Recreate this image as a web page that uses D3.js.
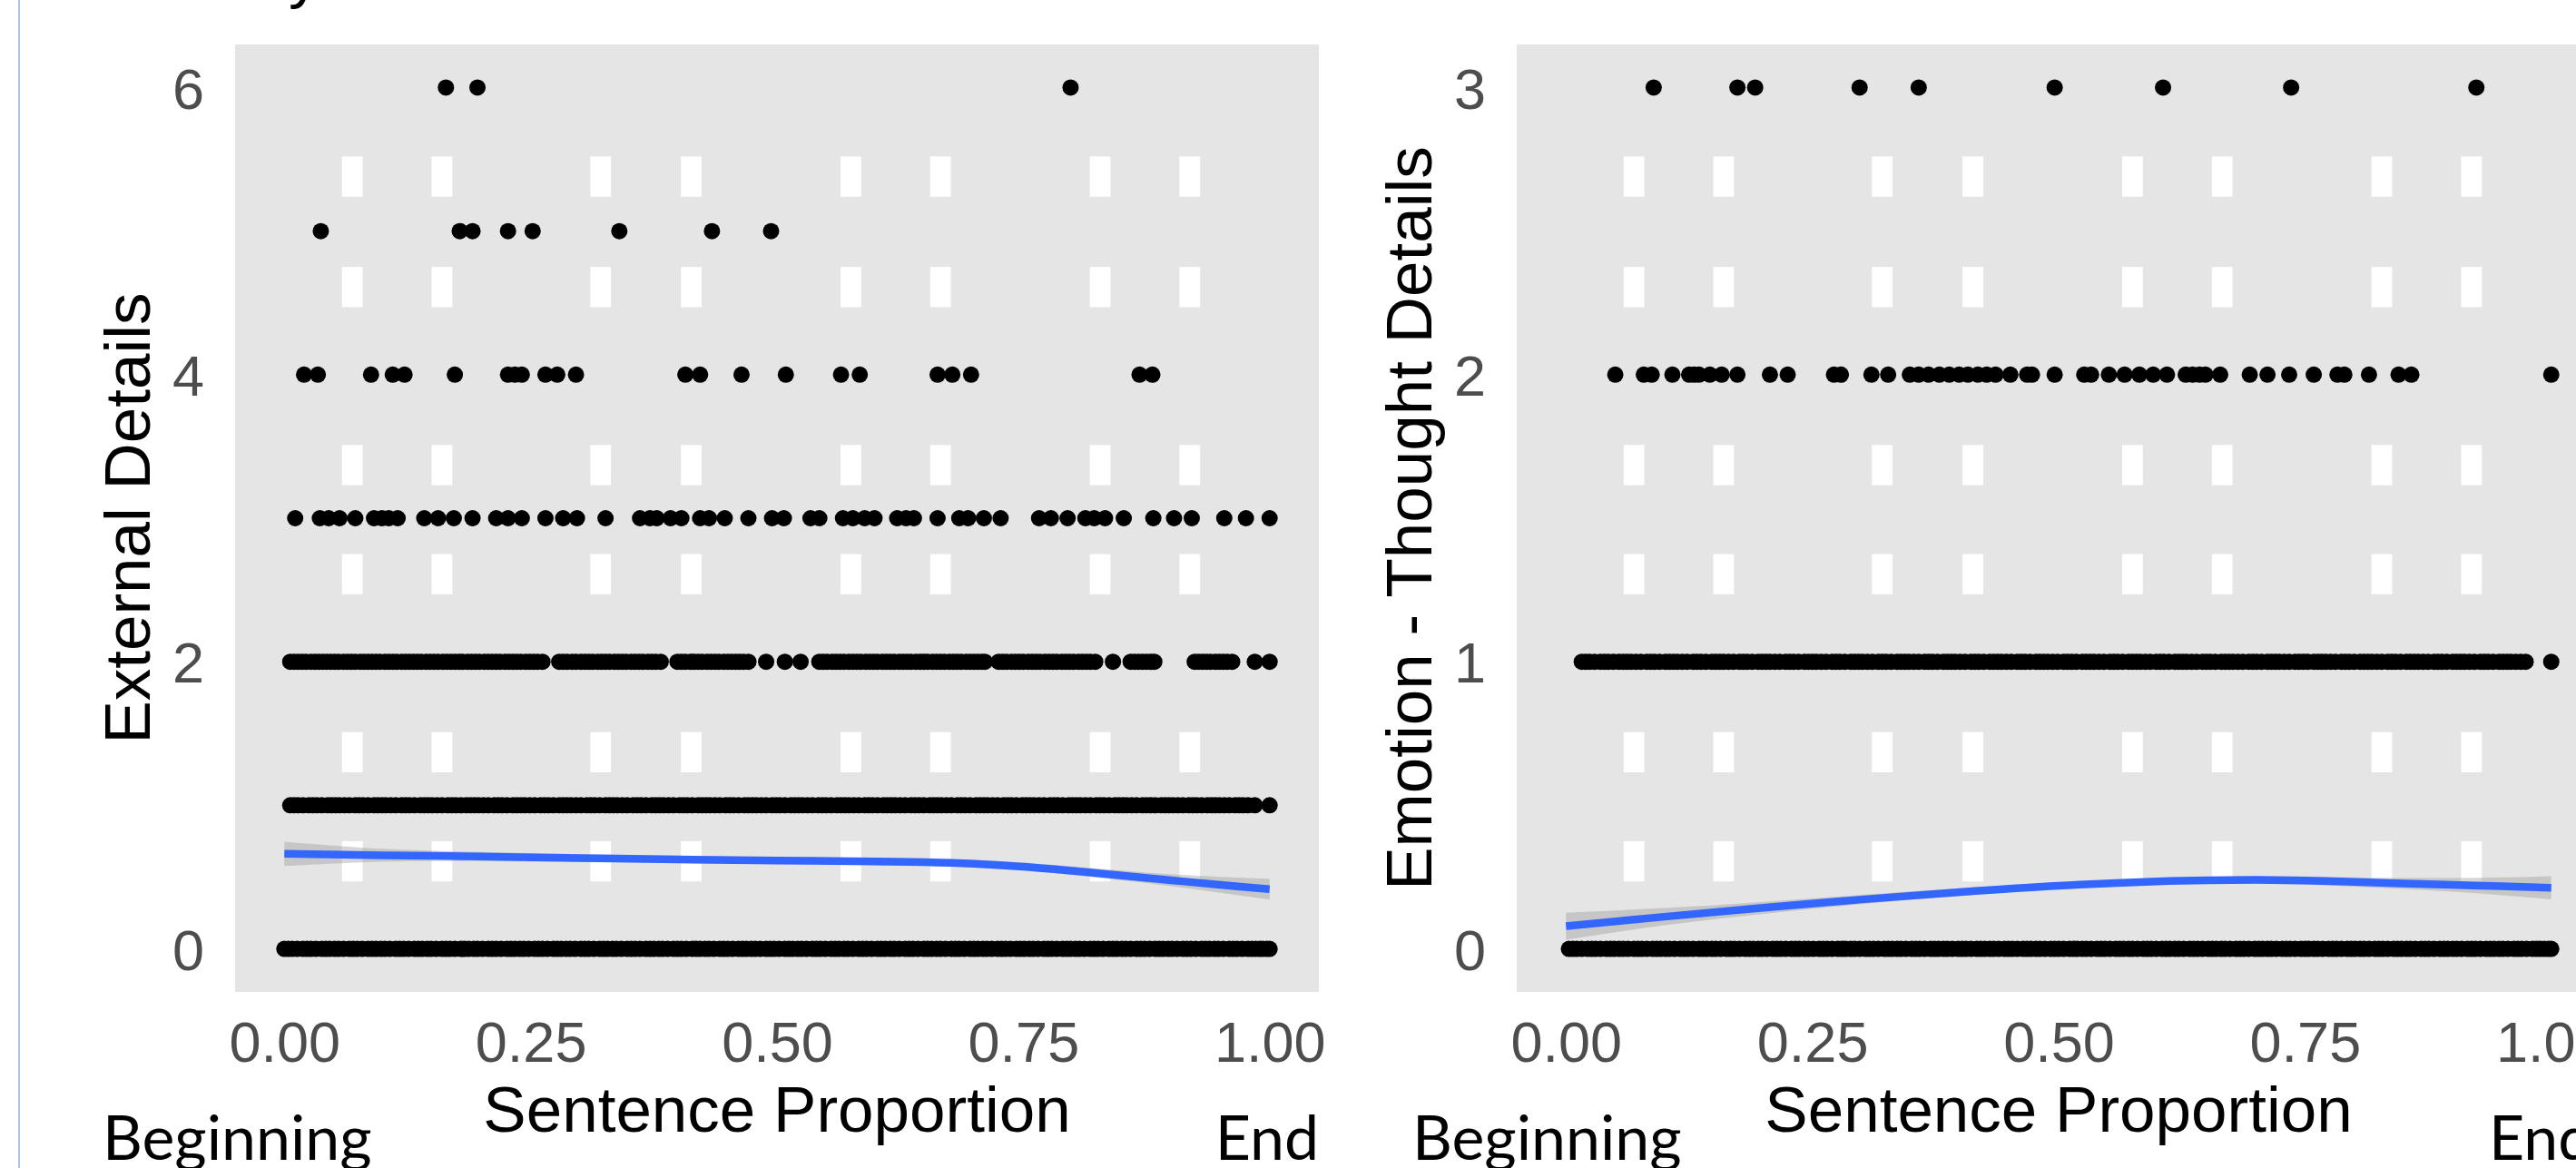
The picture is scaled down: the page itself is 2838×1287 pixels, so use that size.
<!DOCTYPE html>
<html><head><meta charset="utf-8">
<script src="https://cdn.jsdelivr.net/npm/d3@7"></script>
<style>html,body{margin:0;padding:0;background:#fff;overflow:hidden}</style>
</head><body><svg id="c" width="2838" height="1287" xmlns="http://www.w3.org/2000/svg"></svg>
<script>
// ---------- DATA ----------
const xTicks = [0, 0.25, 0.5, 0.75, 1];
const leftYTicks = [0, 2, 4, 6];
const rightYTicks = [0, 1, 2, 3];
const xTitle = "Sentence Proportion";
const leftYTitle = "External Details";
const rightYTitle = "Emotion - Thought Details";
const startLabel = "Beginning";
const endLabel = "End";

// Left panel: External Details, x = sentence proportion for each y level
const left6 = [0.164, 0.196, 0.798];
const left5 = [0.037, 0.178, 0.191, 0.227, 0.252, 0.340, 0.434, 0.494];
const left4 = [0.020, 0.034, 0.088, 0.110, 0.122, 0.173, 0.227, 0.234, 0.241, 0.265, 0.277, 0.296,
  0.407, 0.422, 0.464, 0.509, 0.565, 0.584, 0.663, 0.678, 0.697, 0.868, 0.881];
const left3 = [0.011, 0.036, 0.045, 0.056, 0.072, 0.091, 0.099, 0.106, 0.115, 0.142, 0.156, 0.172,
  0.191, 0.215, 0.227, 0.241, 0.265, 0.283, 0.297, 0.326, 0.361, 0.371, 0.378, 0.392, 0.403, 0.422,
  0.431, 0.447, 0.471, 0.495, 0.507, 0.534, 0.543, 0.567, 0.577, 0.589, 0.599, 0.622, 0.631, 0.639,
  0.663, 0.685, 0.694, 0.710, 0.727, 0.766, 0.778, 0.795, 0.813, 0.822, 0.833, 0.852, 0.882, 0.903,
  0.921, 0.954, 0.976, 1.000];
const left2 = [0.006, 0.010, 0.014, 0.018, 0.022, 0.027, 0.031, 0.035, 0.039, 0.043, 0.047, 0.051,
  0.055, 0.060, 0.064, 0.068, 0.072, 0.077, 0.081, 0.085, 0.089, 0.093, 0.097, 0.102, 0.106, 0.110,
  0.114, 0.119, 0.123, 0.127, 0.131, 0.135, 0.139, 0.144, 0.148, 0.152, 0.156, 0.161, 0.165, 0.169,
  0.173, 0.177, 0.181, 0.186, 0.190, 0.194, 0.198, 0.203, 0.207, 0.211, 0.215, 0.219, 0.224, 0.228,
  0.232, 0.236, 0.240, 0.245, 0.249, 0.253, 0.257, 0.262,
  0.279, 0.283, 0.287, 0.292, 0.296, 0.301, 0.305, 0.309, 0.313, 0.318, 0.322, 0.326, 0.330, 0.335,
  0.339, 0.343, 0.347, 0.352, 0.356, 0.360, 0.364, 0.369, 0.373, 0.377, 0.382,
  0.399, 0.403, 0.407, 0.412, 0.416, 0.420, 0.424, 0.429, 0.433, 0.437, 0.441, 0.446, 0.450, 0.454,
  0.458, 0.462, 0.466, 0.471,
  0.489, 0.508, 0.524,
  0.543, 0.547, 0.551, 0.556, 0.560, 0.564, 0.568, 0.573, 0.577, 0.581, 0.585, 0.590, 0.594, 0.598,
  0.602, 0.607, 0.611, 0.615, 0.619, 0.624, 0.628, 0.632, 0.636, 0.641, 0.645, 0.649, 0.653, 0.658,
  0.662, 0.666, 0.670, 0.675, 0.679, 0.683, 0.687, 0.692, 0.696, 0.700, 0.704, 0.708, 0.711,
  0.725, 0.729, 0.733, 0.738, 0.742, 0.746, 0.750, 0.755, 0.759, 0.763, 0.767, 0.772, 0.776, 0.780,
  0.784, 0.789, 0.793, 0.797, 0.801, 0.806, 0.810, 0.814, 0.818, 0.823,
  0.841, 0.859, 0.863, 0.867, 0.871, 0.875, 0.879, 0.883, 0.924, 0.928, 0.932, 0.936, 0.940, 0.945,
  0.949, 0.953, 0.957, 0.962, 0.985, 1.000];
const left1 = [0.006, 0.010, 0.014, 0.019, 0.025, 0.029, 0.033, 0.038, 0.044, 0.048, 0.052, 0.056,
  0.061, 0.066, 0.072, 0.076, 0.080, 0.085, 0.091, 0.095, 0.099, 0.103, 0.108, 0.113, 0.119, 0.123,
  0.127, 0.132, 0.138, 0.142, 0.146, 0.150, 0.155, 0.160, 0.166, 0.170, 0.174, 0.179, 0.185, 0.189,
  0.193, 0.197, 0.202, 0.207, 0.213, 0.217, 0.221, 0.226, 0.232, 0.236, 0.240, 0.244, 0.249, 0.254,
  0.260, 0.264, 0.268, 0.273, 0.279, 0.283, 0.287, 0.291, 0.296, 0.301, 0.307, 0.311, 0.315, 0.320,
  0.326, 0.330, 0.334, 0.338, 0.343, 0.348, 0.354, 0.358, 0.362, 0.367, 0.373, 0.377, 0.381, 0.385,
  0.390, 0.395, 0.401, 0.405, 0.409, 0.414, 0.420, 0.424, 0.428, 0.432, 0.437, 0.442, 0.448, 0.452,
  0.456, 0.461, 0.467, 0.471, 0.475, 0.479, 0.484, 0.489, 0.495, 0.499, 0.503, 0.508, 0.514, 0.518,
  0.522, 0.526, 0.531, 0.536, 0.542, 0.546, 0.550, 0.555, 0.561, 0.565, 0.569, 0.573, 0.578, 0.583,
  0.589, 0.593, 0.597, 0.602, 0.608, 0.612, 0.616, 0.620, 0.625, 0.630, 0.636, 0.640, 0.644, 0.649,
  0.655, 0.659, 0.663, 0.667, 0.672, 0.677, 0.683, 0.687, 0.691, 0.696, 0.702, 0.706, 0.710, 0.714,
  0.719, 0.724, 0.730, 0.734, 0.738, 0.743, 0.749, 0.753, 0.757, 0.761, 0.766, 0.771, 0.777, 0.781,
  0.785, 0.790, 0.796, 0.800, 0.804, 0.808, 0.813, 0.818, 0.824, 0.828, 0.832, 0.837, 0.843, 0.847,
  0.851, 0.855, 0.860, 0.865, 0.871, 0.875, 0.879, 0.884, 0.890, 0.894, 0.898, 0.902, 0.907, 0.912,
  0.918, 0.922, 0.926, 0.931, 0.937, 0.941, 0.945, 0.949, 0.954, 0.959, 0.965, 0.969, 0.973, 0.978,
  0.985, 1.000];
const left0 = [0.000, 0.004, 0.008, 0.013, 0.019, 0.023, 0.027, 0.032, 0.038, 0.042, 0.046, 0.051,
  0.055, 0.060, 0.066, 0.070, 0.074, 0.079, 0.085, 0.089, 0.093, 0.098, 0.102, 0.107, 0.113, 0.117,
  0.121, 0.126, 0.132, 0.136, 0.140, 0.145, 0.149, 0.154, 0.160, 0.164, 0.168, 0.173, 0.179, 0.183,
  0.187, 0.192, 0.196, 0.201, 0.207, 0.211, 0.215, 0.220, 0.226, 0.230, 0.234, 0.239, 0.243, 0.248,
  0.254, 0.258, 0.262, 0.267, 0.273, 0.277, 0.281, 0.286, 0.290, 0.295, 0.301, 0.305, 0.309, 0.314,
  0.320, 0.324, 0.328, 0.333, 0.337, 0.342, 0.348, 0.352, 0.356, 0.361, 0.367, 0.371, 0.375, 0.380,
  0.384, 0.389, 0.395, 0.399, 0.403, 0.408, 0.414, 0.418, 0.422, 0.427, 0.431, 0.436, 0.442, 0.446,
  0.450, 0.455, 0.461, 0.465, 0.469, 0.474, 0.478, 0.483, 0.489, 0.493, 0.497, 0.502, 0.508, 0.512,
  0.516, 0.521, 0.525, 0.530, 0.536, 0.540, 0.544, 0.549, 0.555, 0.559, 0.563, 0.568, 0.572, 0.577,
  0.583, 0.587, 0.591, 0.596, 0.602, 0.606, 0.610, 0.615, 0.619, 0.624, 0.630, 0.634, 0.638, 0.643,
  0.649, 0.653, 0.657, 0.662, 0.666, 0.671, 0.677, 0.681, 0.685, 0.690, 0.696, 0.700, 0.704, 0.709,
  0.713, 0.718, 0.724, 0.728, 0.732, 0.737, 0.743, 0.747, 0.751, 0.756, 0.760, 0.765, 0.771, 0.775,
  0.779, 0.784, 0.790, 0.794, 0.798, 0.803, 0.807, 0.812, 0.818, 0.822, 0.826, 0.831, 0.837, 0.841,
  0.845, 0.850, 0.854, 0.859, 0.865, 0.869, 0.873, 0.878, 0.884, 0.888, 0.892, 0.897, 0.901, 0.906,
  0.912, 0.916, 0.920, 0.925, 0.931, 0.935, 0.939, 0.944, 0.948, 0.953, 0.959, 0.963, 0.967, 0.972,
  0.978, 0.982, 0.986, 0.990, 0.993, 0.997, 1.000];

// Right panel: Emotion - Thought Details
const right3 = [0.089, 0.174, 0.192, 0.298, 0.358, 0.496, 0.606, 0.736, 0.924];
const right2 = [0.050, 0.079, 0.087, 0.108, 0.125, 0.130, 0.135, 0.146, 0.158, 0.174, 0.207, 0.225,
  0.272, 0.279, 0.310, 0.327, 0.349, 0.358, 0.368, 0.379, 0.389, 0.399, 0.408, 0.418, 0.427, 0.436,
  0.451, 0.468, 0.473, 0.496, 0.526, 0.533, 0.551, 0.567, 0.582, 0.596, 0.610, 0.629, 0.636, 0.643,
  0.649, 0.664, 0.694, 0.712, 0.734, 0.759, 0.783, 0.790, 0.815, 0.845, 0.858, 1.000];
const right1 = [0.016, 0.020, 0.024, 0.029, 0.035, 0.039, 0.043, 0.048, 0.054, 0.058, 0.062, 0.066,
  0.071, 0.076, 0.082, 0.086, 0.090, 0.095, 0.101, 0.105, 0.109, 0.113, 0.118, 0.123, 0.129, 0.133,
  0.137, 0.142, 0.148, 0.152, 0.156, 0.160, 0.165, 0.170, 0.176, 0.180, 0.184, 0.189, 0.195, 0.199,
  0.203, 0.207, 0.212, 0.217, 0.223, 0.227, 0.231, 0.236, 0.242, 0.246, 0.250, 0.254, 0.259, 0.264,
  0.270, 0.274, 0.278, 0.283, 0.289, 0.293, 0.297, 0.301, 0.306, 0.311, 0.317, 0.321, 0.325, 0.330,
  0.336, 0.340, 0.344, 0.348, 0.353, 0.358, 0.364, 0.368, 0.372, 0.377, 0.383, 0.387, 0.391, 0.395,
  0.400, 0.405, 0.411, 0.415, 0.419, 0.424, 0.430, 0.434, 0.438, 0.442, 0.447, 0.452, 0.458, 0.462,
  0.466, 0.471, 0.477, 0.481, 0.485, 0.489, 0.494, 0.499, 0.505, 0.509, 0.513, 0.518, 0.524, 0.528,
  0.532, 0.536, 0.541, 0.546, 0.552, 0.556, 0.560, 0.565, 0.571, 0.575, 0.579, 0.583, 0.588, 0.593,
  0.599, 0.603, 0.607, 0.612, 0.618, 0.622, 0.626, 0.630, 0.635, 0.640, 0.646, 0.650, 0.654, 0.659,
  0.665, 0.669, 0.673, 0.677, 0.682, 0.687, 0.693, 0.697, 0.701, 0.706, 0.712, 0.716, 0.720, 0.724,
  0.729, 0.734, 0.740, 0.744, 0.748, 0.753, 0.759, 0.763, 0.767, 0.771, 0.776, 0.781, 0.787, 0.791,
  0.795, 0.800, 0.806, 0.810, 0.814, 0.818, 0.823, 0.828, 0.834, 0.838, 0.842, 0.847, 0.853, 0.857,
  0.861, 0.865, 0.870, 0.875, 0.881, 0.885, 0.889, 0.894, 0.900, 0.904, 0.908, 0.912, 0.917, 0.922,
  0.928, 0.932, 0.936, 0.941, 0.947, 0.951, 0.955, 0.959, 0.964, 0.969, 0.974, 1.000];
const right0 = [0.003, 0.007, 0.011, 0.016, 0.022, 0.026, 0.030, 0.035, 0.041, 0.045, 0.049, 0.054,
  0.058, 0.063, 0.069, 0.073, 0.077, 0.082, 0.088, 0.092, 0.096, 0.101, 0.105, 0.110, 0.116, 0.120,
  0.124, 0.129, 0.135, 0.139, 0.143, 0.148, 0.152, 0.157, 0.163, 0.167, 0.171, 0.176, 0.182, 0.186,
  0.190, 0.195, 0.199, 0.204, 0.210, 0.214, 0.218, 0.223, 0.229, 0.233, 0.237, 0.242, 0.246, 0.251,
  0.257, 0.261, 0.265, 0.270, 0.276, 0.280, 0.284, 0.289, 0.293, 0.298, 0.304, 0.308, 0.312, 0.317,
  0.323, 0.327, 0.331, 0.336, 0.340, 0.345, 0.351, 0.355, 0.359, 0.364, 0.370, 0.374, 0.378, 0.383,
  0.387, 0.392, 0.398, 0.402, 0.406, 0.411, 0.417, 0.421, 0.425, 0.430, 0.434, 0.439, 0.445, 0.449,
  0.453, 0.458, 0.464, 0.468, 0.472, 0.477, 0.481, 0.486, 0.492, 0.496, 0.500, 0.505, 0.511, 0.515,
  0.519, 0.524, 0.528, 0.533, 0.539, 0.543, 0.547, 0.552, 0.558, 0.562, 0.566, 0.571, 0.575, 0.580,
  0.586, 0.590, 0.594, 0.599, 0.605, 0.609, 0.613, 0.618, 0.622, 0.627, 0.633, 0.637, 0.641, 0.646,
  0.652, 0.656, 0.660, 0.665, 0.669, 0.674, 0.680, 0.684, 0.688, 0.693, 0.699, 0.703, 0.707, 0.712,
  0.716, 0.721, 0.727, 0.731, 0.735, 0.740, 0.746, 0.750, 0.754, 0.759, 0.763, 0.768, 0.774, 0.778,
  0.782, 0.787, 0.793, 0.797, 0.801, 0.806, 0.810, 0.815, 0.821, 0.825, 0.829, 0.834, 0.840, 0.844,
  0.848, 0.853, 0.857, 0.862, 0.868, 0.872, 0.876, 0.881, 0.887, 0.891, 0.895, 0.900, 0.904, 0.909,
  0.915, 0.919, 0.923, 0.928, 0.934, 0.938, 0.942, 0.947, 0.951, 0.956, 0.962, 0.966, 0.970, 0.975,
  0.981, 0.985, 0.989, 0.993, 0.997, 1.000];

// Smooth fits (loess) with standard error half-widths
const smoothX = [0, 0.1, 0.2, 0.3, 0.4, 0.5, 0.6, 0.65, 0.7, 0.75, 0.8, 0.85, 0.9, 0.95, 1.0];
const leftFit = [0.662, 0.652, 0.643, 0.633, 0.623, 0.615, 0.609, 0.604, 0.593, 0.573, 0.544, 0.511, 0.478, 0.446, 0.416];
const leftSe = [0.085, 0.045, 0.032, 0.027, 0.025, 0.024, 0.025, 0.026, 0.027, 0.028, 0.03, 0.034, 0.042, 0.055, 0.072];
const rightFit = [0.079, 0.112, 0.143, 0.172, 0.198, 0.220, 0.235, 0.239, 0.240, 0.238, 0.233, 0.228, 0.223, 0.218, 0.213];
const rightSe = [0.047, 0.030, 0.021, 0.016, 0.013, 0.012, 0.012, 0.012, 0.013, 0.014, 0.016, 0.019, 0.024, 0.031, 0.040];

// Background dash artefacts (x centre in proportion, y span in External-Details units)
const dashX = [0.069, 0.160, 0.321, 0.413, 0.575, 0.666, 0.828, 0.919];
const dashY = [[5.24, 5.52], [4.47, 4.75], [3.23, 3.51], [2.47, 2.75], [1.23, 1.51], [0.47, 0.75]];

// ---------- DRAWING ----------
const svg = d3.select("#c");
const FONT = "'Liberation Sans', Arial, Helvetica, sans-serif";
const PW = 1194, PH = 1044, PTOP = 49;

svg.append("rect").attr("width", 2838).attr("height", 1287).attr("fill", "#fff");
// window border line at left
svg.append("line").attr("x1", 21).attr("x2", 21).attr("y1", 0).attr("y2", 1287)
  .attr("stroke", "#aac3e6").attr("stroke-width", 2);
// clipped title fragment at the top
svg.append("text").attr("x", 318).attr("y", -5).attr("font-family", FONT)
  .attr("font-size", 70).attr("fill", "#000").text("y");

function panel(px, rows, yMax, yTicks, fit, se, yTitle) {
  const g = svg.append("g").attr("transform", `translate(${px},${PTOP})`);
  const x = d3.scaleLinear().domain([-0.05, 1.05]).range([0, PW]);
  const pad = yMax * 0.05;
  const y = d3.scaleLinear().domain([-pad, yMax + pad]).range([PH, 0]);
  const dashScale = yMax / 6;

  g.append("rect").attr("width", PW).attr("height", PH).attr("fill", "#e5e5e5");

  const dw = 0.021;
  dashY.forEach(([a, b]) => {
    g.selectAll(null).data(dashX).enter().append("rect")
      .attr("x", d => x(d - dw / 2)).attr("width", x(dw) - x(0))
      .attr("y", y(b * dashScale)).attr("height", y(a * dashScale) - y(b * dashScale))
      .attr("fill", "#fff");
  });

  rows.forEach(([lvl, xs]) => {
    g.append("g").selectAll("circle").data(xs).enter().append("circle")
      .attr("cx", d => x(d)).attr("cy", y(lvl)).attr("r", 9).attr("fill", "#000");
  });

  const pts = smoothX.map((d, i) => ({x: d, y: fit[i], se: se[i]}));
  g.append("path").datum(pts)
    .attr("d", d3.area().x(d => x(d.x)).y0(d => y(d.y - d.se)).y1(d => y(d.y + d.se)).curve(d3.curveCatmullRom))
    .attr("fill", "#999999").attr("fill-opacity", 0.4);
  g.append("path").datum(pts)
    .attr("d", d3.line().x(d => x(d.x)).y(d => y(d.y)).curve(d3.curveCatmullRom))
    .attr("fill", "none").attr("stroke", "#3366ff").attr("stroke-width", 8.5);

  const xa = g.append("g").attr("transform", `translate(0,${PH})`)
    .call(d3.axisBottom(x).tickValues(xTicks).tickFormat(d3.format(".2f")).tickSize(0).tickPadding(32));
  const ya = g.append("g")
    .call(d3.axisLeft(y).tickValues(yTicks).tickFormat(d3.format("d")).tickSize(0).tickPadding(34));
  [xa, ya].forEach(a => {
    a.select(".domain").remove();
    a.selectAll("text").attr("font-family", FONT).attr("font-size", 63).attr("fill", "#4d4d4d");
  });
  ya.selectAll("text").attr("dy", "0.36em");

  g.append("text").attr("x", x(0.5)).attr("y", 1198).attr("text-anchor", "middle")
    .attr("font-family", FONT).attr("font-size", 71).attr("fill", "#000").text(xTitle);
  g.append("text").attr("transform", `translate(-94,${PH / 2}) rotate(-90)`).attr("text-anchor", "middle")
    .attr("font-family", FONT).attr("font-size", 71).attr("fill", "#000").text(yTitle);
}

panel(259, [[6, left6], [5, left5], [4, left4], [3, left3], [2, left2], [1, left1], [0, left0]],
  6, leftYTicks, leftFit, leftSe, leftYTitle);
panel(1671, [[3, right3], [2, right2], [1, right1], [0, right0]],
  3, rightYTicks, rightFit, rightSe, rightYTitle);

const LFONT = "Lato, 'Open Sans', sans-serif";
function note(xp, anchor, t) {
  svg.append("text").attr("x", xp).attr("y", 1278).attr("text-anchor", anchor)
    .attr("font-family", LFONT).attr("font-size", 68).attr("fill", "#000").text(t);
}
note(113, "start", startLabel);
note(1453, "end", endLabel);
note(1556, "start", startLabel);
note(2742, "start", endLabel);
</script></body></html>
